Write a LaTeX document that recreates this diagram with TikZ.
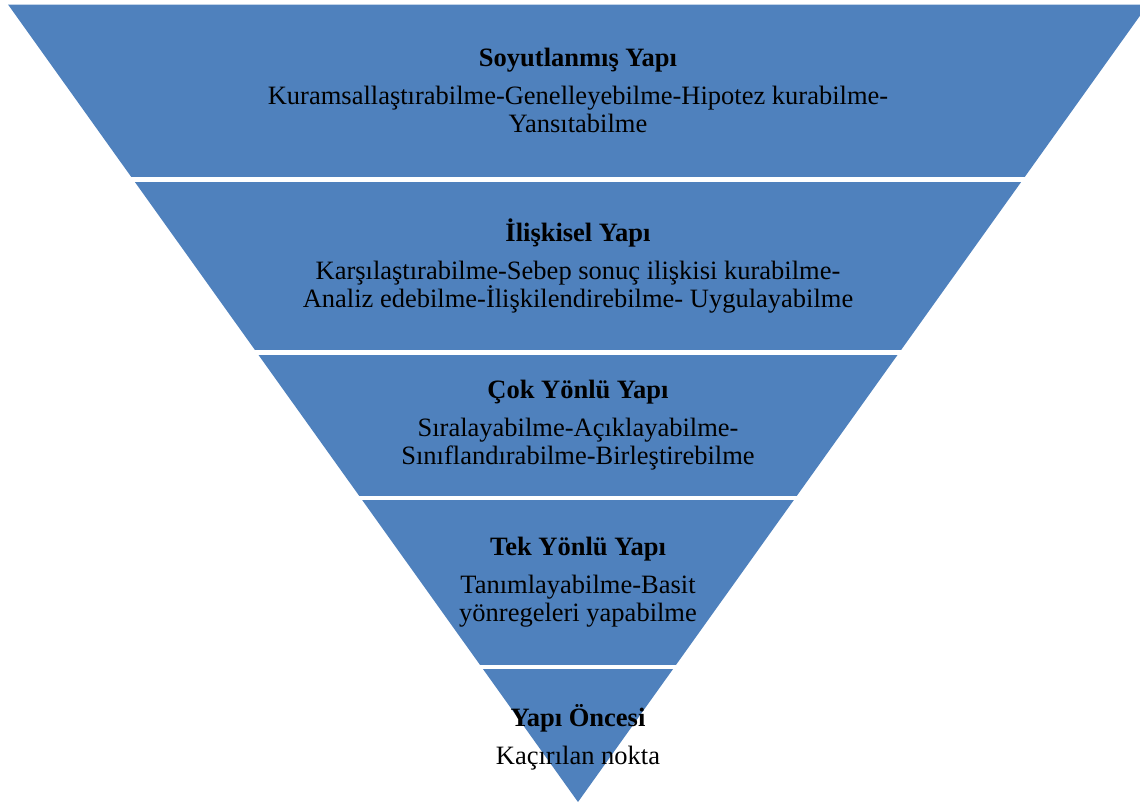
\documentclass[tikz,border=0pt]{standalone}
\usepackage{fontspec}
\setmainfont{Liberation Serif}
\usetikzlibrary{positioning}
\definecolor{bandblue}{RGB}{79,129,189}

\begin{document}
\begin{tikzpicture}[
  x=1pt,y=-1pt,
  band/.style={fill=bandblue},
  leveltext/.style={align=center,inner sep=0pt,text=black,
    font=\fontsize{26.5}{27.5}\selectfont}
]
\clip (0,0) rectangle (1140,803);
% five strips cut out of one inverted triangle
\foreach \top/\bot in {4.5/176.5,182/349.5,355/495,500.5/664,669.5/803}{
  \begin{scope}
    \clip (0,\top) rectangle (1140,\bot);
    \fill[band] (8,4.5) -- (1148,4.5) -- (578,802) -- cycle;
  \end{scope}
}

\node[leveltext] (soyut) at (578,90.5) {\textbf{Soyutlanmış Yapı}\\[10.5pt]
  Kuramsallaştırabilme-Genelleyebilme-Hipotez kurabilme-\\Yansıtabilme};
\node[leveltext] (iliskisel) at (578,266) {\textbf{İlişkisel Yapı}\\[10.5pt]
  Karşılaştırabilme-Sebep sonuç ilişkisi kurabilme-\\Analiz edebilme-İlişkilendirebilme- Uygulayabilme};
\node[leveltext] (cokyonlu) at (578,425) {\textbf{Çok Yönlü Yapı}\\[10.5pt]
  Sıralayabilme-Açıklayabilme-\\Sınıflandırabilme-Birleştirebilme};
\node[leveltext] (tekyonlu) at (578,582) {\textbf{Tek Yönlü Yapı}\\[10.5pt]
  Tanımlayabilme-Basit\\yönregeleri yapabilme};
\node[leveltext] (oncesi) at (578,737) {\textbf{Yapı Öncesi}\\[10.5pt]
  Kaçırılan nokta};
\end{tikzpicture}
\end{document}
